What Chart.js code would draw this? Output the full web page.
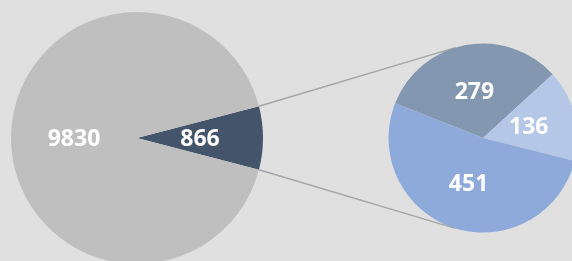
<!DOCTYPE html>
<html>
<head>
<meta charset="utf-8">
<script src="https://cdn.jsdelivr.net/npm/chart.js@4.4.1/dist/chart.umd.min.js"></script>
<style>
  html, body { margin: 0; padding: 0; width: 572px; height: 261px; overflow: hidden; background: #e0e0e0; }
  .box { position: absolute; left: 0; top: 0; width: 600px; height: 276px; }
</style>
</head>
<body>
<div class="box"><canvas id="mainPie"></canvas></div>
<div class="box"><canvas id="subPie"></canvas></div>
<script>
// main pie: the small slice is split out into the second pie
const mainLabels = ["Other", "Split"];
const mainValues = [866, 9830];
const mainColors = ["#44546a", "#bfbfbf"];

// second pie: breakdown of the 866 slice
const subLabels = ["A", "B", "C"];
const subValues = [279, 136, 451];
const subColors = ["#8497b0", "#b4c7e7", "#8eaadb"];

const total = mainValues.reduce((a, b) => a + b, 0);

// white value labels halfway out on every slice
const valueLabels = {
    id: "valueLabels",
    afterDatasetsDraw(chart) {
        const c = chart.ctx;
        const ds = chart.data.datasets[0];
        c.save();
        c.fillStyle = "#ffffff";
        c.font = "bold 23px 'Open Sans'";
        c.textAlign = "center";
        c.textBaseline = "middle";
        chart.getDatasetMeta(0).data.forEach((arc, i) => {
            const p = arc.getProps(["x", "y", "startAngle", "endAngle", "outerRadius"], true);
            const mid = (p.startAngle + p.endAngle) / 2;
            const d = p.outerRadius * 0.5;
            c.fillText(ds.data[i], p.x + Math.cos(mid) * d, p.y + Math.sin(mid) * d + 1);
        });
        c.restore();
    }
};

let mainChart;

// lines from the split slice to the second pie
const connectors = {
    id: "connectors",
    beforeDatasetsDraw(chart) {
        if (!mainChart) return;
        const a = mainChart.getDatasetMeta(0).data[0].getProps(["x", "y", "startAngle", "endAngle", "outerRadius"], true);
        const b = chart.getDatasetMeta(0).data[0].getProps(["x", "y", "outerRadius"], true);
        const reach = 107 * Math.PI / 180;
        const c = chart.ctx;
        c.save();
        c.strokeStyle = "#a6a6a6";
        c.lineWidth = 1.5;
        c.beginPath();
        c.moveTo(a.x + Math.cos(a.startAngle) * a.outerRadius, a.y + Math.sin(a.startAngle) * a.outerRadius);
        c.lineTo(b.x + Math.cos(-reach) * b.outerRadius, b.y + Math.sin(-reach) * b.outerRadius);
        c.moveTo(a.x + Math.cos(a.endAngle) * a.outerRadius, a.y + Math.sin(a.endAngle) * a.outerRadius);
        c.lineTo(b.x + Math.cos(reach) * b.outerRadius, b.y + Math.sin(reach) * b.outerRadius);
        c.stroke();
        c.restore();
    }
};

const baseOptions = {
    responsive: true,
    maintainAspectRatio: false,
    animation: false,
    events: [],
    plugins: { legend: { display: false }, tooltip: { enabled: false } }
};

mainChart = new Chart(document.getElementById("mainPie"), {
    type: "pie",
    data: {
        labels: mainLabels,
        datasets: [{ data: mainValues, backgroundColor: mainColors, borderWidth: 0 }]
    },
    options: {
        ...baseOptions,
        rotation: 90 - (mainValues[0] / total) * 180,
        layout: { padding: { left: 11, right: 337, top: 12, bottom: 12 } }
    },
    plugins: [valueLabels]
});

new Chart(document.getElementById("subPie"), {
    type: "pie",
    data: {
        labels: subLabels,
        datasets: [{ data: subValues, backgroundColor: subColors, borderWidth: 0 }]
    },
    options: {
        ...baseOptions,
        rotation: 291.5,
        layout: { padding: { left: 388.5, right: 22.5, top: 43.5, bottom: 43.5 } }
    },
    plugins: [connectors, valueLabels]
});
</script>
</body>
</html>
